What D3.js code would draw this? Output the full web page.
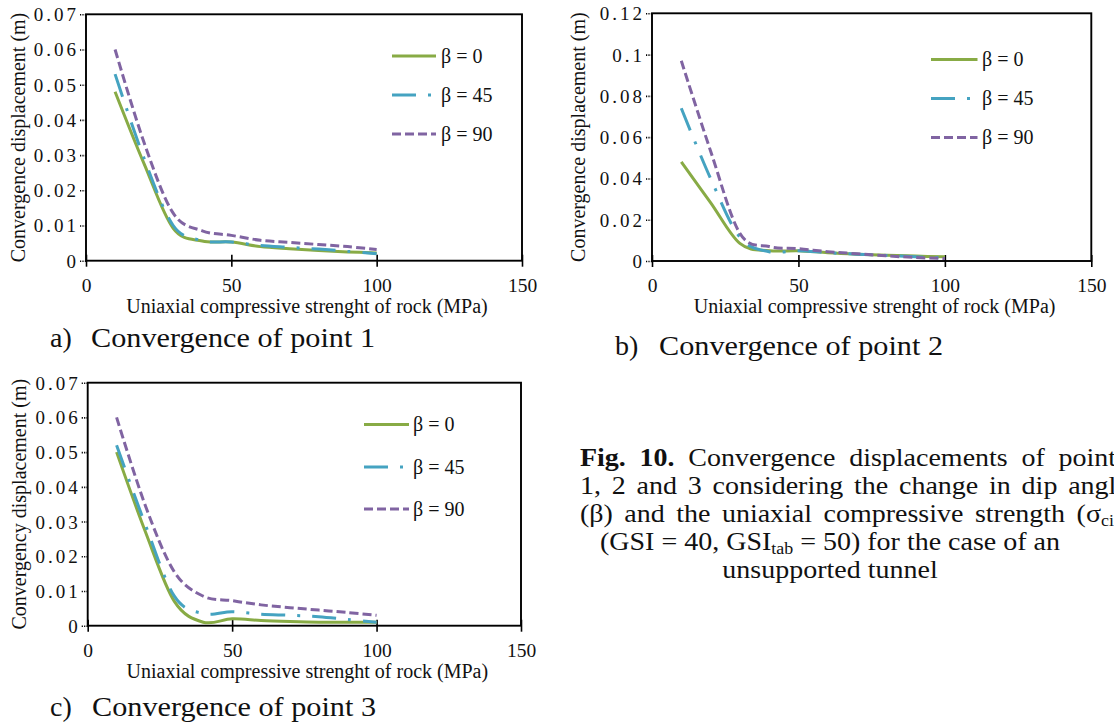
<!DOCTYPE html>
<html>
<head>
<meta charset="utf-8">
<script src="https://cdn.jsdelivr.net/npm/d3@7"></script>
<style>
  html, body { margin: 0; padding: 0; background: #fff; }
  svg { display: block; font-family: "Liberation Serif", "Times New Roman", serif; }
</style>
</head>
<body>
<svg id="fig" width="1114" height="724"></svg>
<script>
// Uniaxial compressive strength of rock (MPa) at which convergence was evaluated
const ucs = [10, 20, 30, 40, 50, 60, 70, 80, 90, 100];
const dipLabels = ["β = 0", "β = 45", "β = 90"];

// Point 1 convergence displacement (m)
const point1Beta0  = [0.048, 0.0275, 0.0092, 0.0056, 0.0053, 0.0040, 0.0034, 0.0029, 0.0025, 0.0022];
const point1Beta45 = [0.053, 0.0290, 0.0100, 0.0057, 0.0053, 0.0043, 0.0038, 0.0033, 0.0027, 0.0020];
const point1Beta90 = [0.060, 0.0335, 0.0135, 0.0085, 0.0072, 0.0058, 0.0052, 0.0046, 0.0040, 0.0032];

// Point 2 convergence displacement (m)
const point2Beta0  = [0.048, 0.0283, 0.0085, 0.0050, 0.0050, 0.0040, 0.0033, 0.0028, 0.0024, 0.0020];
const point2Beta45 = [0.074, 0.0400, 0.0115, 0.0045, 0.0050, 0.0040, 0.0033, 0.0027, 0.0020, 0.0015];
const point2Beta90 = [0.097, 0.0533, 0.0134, 0.0070, 0.0060, 0.0045, 0.0035, 0.0025, 0.0017, 0.0012];

// Point 3 convergency displacement (m)
const point3Beta0  = [0.050, 0.0270, 0.0070, 0.0010, 0.0020, 0.0015, 0.0012, 0.0010, 0.0010, 0.0010];
const point3Beta45 = [0.052, 0.0290, 0.0085, 0.0035, 0.0040, 0.0033, 0.0030, 0.0026, 0.0018, 0.0010];
const point3Beta90 = [0.060, 0.0345, 0.0155, 0.0085, 0.0072, 0.0060, 0.0052, 0.0045, 0.0038, 0.0030];

// Axis ticks
const xTicks = [0, 50, 100, 150];
const yTicksSmall = [0, 0.01, 0.02, 0.03, 0.04, 0.05, 0.06, 0.07];
const yTicksLarge = [0, 0.02, 0.04, 0.06, 0.08, 0.1, 0.12];

const xTitle = "Uniaxial compressive strenght of rock (MPa)";

const colors = ["#88AB45", "#45A3C1", "#8064A2"];
const dashes = [null, "24 12 3 12", "9 4"];

const svg = d3.select("#fig");

const panels = [
  { id: "p1", left: 86, right: 522, top: 14.3, bottom: 260.7, yMax: 0.07, yTicks: yTicksSmall,
    yTitle: "Convergence displacement (m)", yTitleX: 25,
    series: [point1Beta0, point1Beta45, point1Beta90],
    legend: { x0: 392, x1: 436, tx: 441, rows: [56, 95, 134] },
    caption: { tag: "a)", text: "Convergence of point 1", tagX: 50, textX: 91, textW: 284, y: 347 } },
  { id: "p2", left: 652, right: 1091.3, top: 13.3, bottom: 261, yMax: 0.12, yTicks: yTicksLarge,
    yTitle: "Convergence displacement (m)", yTitleX: 585,
    series: [point2Beta0, point2Beta45, point2Beta90],
    legend: { x0: 931, x1: 977.5, tx: 982, rows: [59.5, 98.5, 137.5] },
    caption: { tag: "b)", text: "Convergence of point 2", tagX: 615, textX: 659, textW: 284, y: 355 } },
  { id: "p3", left: 87.7, right: 521, top: 382.7, bottom: 625.7, yMax: 0.07, yTicks: yTicksSmall,
    yTitle: "Convergency displacement (m)", yTitleX: 26,
    series: [point3Beta0, point3Beta45, point3Beta90],
    legend: { x0: 364, x1: 409, tx: 413, rows: [424.5, 467, 509] },
    caption: { tag: "c)", text: "Convergence of point 3", tagX: 50, textX: 92, textW: 284, y: 716 } }
];

const fmt = v => (v === 0 ? "0" : d3.format("~g")(+v.toFixed(4)));

panels.forEach(p => {
  const x = d3.scaleLinear().domain([0, 150]).range([p.left, p.right]);
  const y = d3.scaleLinear().domain([0, p.yMax]).range([p.bottom, p.top]);
  const g = svg.append("g").attr("class", p.id);

  // y axis with short dotted outside ticks
  const yAxis = g.append("g")
    .attr("transform", `translate(${p.left},0)`)
    .call(d3.axisLeft(y).tickValues(p.yTicks).tickSize(6).tickFormat(fmt));
  yAxis.select(".domain").remove();
  yAxis.selectAll(".tick line")
    .attr("stroke", "#000").attr("stroke-width", 1.6).attr("stroke-dasharray", "1.2 1.2");
  yAxis.selectAll(".tick text")
    .attr("x", d => (d === 0 ? -10 : -7))
    .attr("dy", "0.34em")
    .attr("fill", "#111")
    .style("font-size", "19px")
    .style("letter-spacing", d => (d === 0 ? "0px" : "3px"))
    .style("font-family", "'Liberation Serif', serif");

  // x axis with crossing ticks
  const xAxis = g.append("g")
    .attr("transform", `translate(0,${p.bottom})`)
    .call(d3.axisBottom(x).tickValues(xTicks).tickSize(6));
  xAxis.select(".domain").remove();
  xAxis.selectAll(".tick line").attr("y1", -6).attr("y2", 6).attr("stroke", "#000").attr("stroke-width", 1.6);
  xAxis.selectAll(".tick text")
    .attr("y", 31).attr("dy", null)
    .attr("fill", "#111")
    .style("font-size", "19.5px")
    .style("font-family", "'Liberation Serif', serif");

  // plot frame
  g.append("rect")
    .attr("x", p.left).attr("y", p.top)
    .attr("width", p.right - p.left).attr("height", p.bottom - p.top)
    .attr("fill", "none").attr("stroke", "#000").attr("stroke-width", 1.9);

  // axis titles
  g.append("text")
    .attr("x", (p.left + p.right) / 2 + 3).attr("y", p.bottom + 52)
    .attr("text-anchor", "middle")
    .attr("fill", "#111")
    .style("font-size", "20px")
    .text(xTitle);
  g.append("text")
    .attr("transform", `translate(${p.yTitleX},${(p.top + p.bottom) / 2}) rotate(-90)`)
    .attr("text-anchor", "middle")
    .attr("fill", "#111")
    .style("font-size", "20px")
    .text(p.yTitle);

  // smoothed series lines
  const line = d3.line()
    .x((d, i) => x(ucs[i]))
    .y(d => y(d))
    .curve(d3.curveCatmullRom.alpha(0));
  p.series.forEach((vals, k) => {
    g.append("path")
      .datum(vals)
      .attr("d", line)
      .attr("fill", "none")
      .attr("stroke", colors[k])
      .attr("stroke-width", 3)
      .attr("stroke-dasharray", dashes[k]);
  });

  // legend
  dipLabels.forEach((lab, k) => {
    const ry = p.legend.rows[k];
    g.append("line")
      .attr("x1", p.legend.x0).attr("x2", p.legend.x1)
      .attr("y1", ry).attr("y2", ry)
      .attr("stroke", colors[k]).attr("stroke-width", 3)
      .attr("stroke-dasharray", dashes[k]);
    g.append("text")
      .attr("x", p.legend.tx).attr("y", ry)
      .attr("dy", "0.33em")
      .attr("fill", "#111")
      .style("font-size", "20px")
      .text(lab);
  });

  // panel caption
  const c = p.caption;
  svg.append("text")
    .attr("x", c.tagX).attr("y", c.y)
    .attr("fill", "#111")
    .style("font-size", "28px")
    .text(c.tag);
  svg.append("text")
    .attr("x", c.textX).attr("y", c.y)
    .attr("fill", "#111")
    .style("font-size", "28px")
    .attr("textLength", c.textW)
    .attr("lengthAdjust", "spacingAndGlyphs")
    .text(c.text);
});

// Figure caption block (justified paragraph, slightly widened type)
const capX = 580;
const cap = svg.append("g").attr("class", "fig-caption")
  .attr("transform", `translate(${capX},0) scale(1.12,1)`)
  .attr("fill", "#111").style("font-size", "25px");

const l1 = cap.append("text").attr("x", 0).attr("y", 466).style("word-spacing", "6px");
l1.append("tspan").attr("font-weight", "bold").text("Fig. 10.");
l1.append("tspan").text(" Convergence displacements of points");

cap.append("text").attr("x", 0).attr("y", 494).style("word-spacing", "3.4px")
  .text("1, 2 and 3 considering the change in dip angle");

const l3 = cap.append("text").attr("x", 0).attr("y", 522).style("word-spacing", "4px");
l3.append("tspan").text("(β) and the uniaxial compressive strength (σ");
l3.append("tspan").attr("dy", 4).style("font-size", "16px").text("ci");
l3.append("tspan").attr("dy", -4).text(")");

const midX = (830 - capX) / 1.12;
const l4 = cap.append("text").attr("x", midX).attr("y", 550).attr("text-anchor", "middle");
l4.append("tspan").text("(GSI = 40, GSI");
l4.append("tspan").attr("dy", 4).style("font-size", "16px").text("tab");
l4.append("tspan").attr("dy", -4).text(" = 50) for the case of an");

cap.append("text").attr("x", midX).attr("y", 578).attr("text-anchor", "middle")
  .text("unsupported tunnel");
</script>
</body>
</html>
